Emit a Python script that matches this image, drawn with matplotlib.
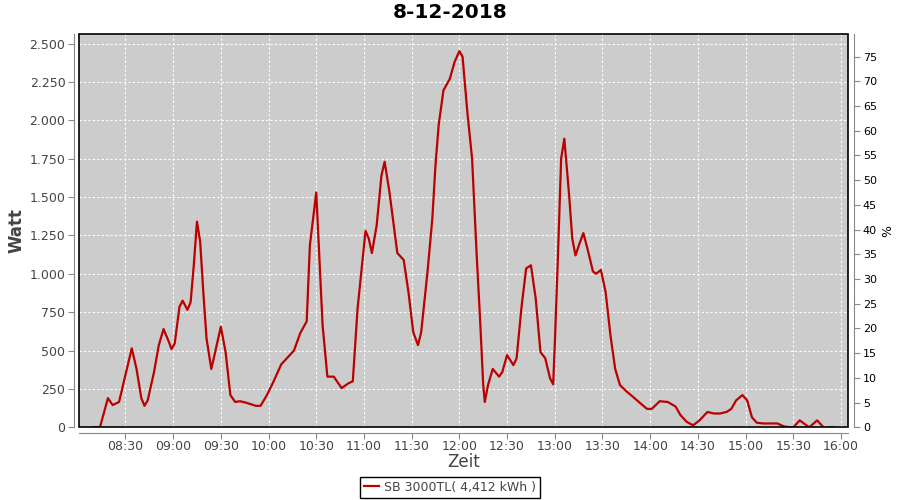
import matplotlib.pyplot as plt
from matplotlib.patches import Rectangle
from matplotlib.ticker import FuncFormatter, MultipleLocator

# Messwerte (Uhrzeit, Leistung in Watt)
zeiten = ["08:10", "08:14", "08:19", "08:22", "08:26", "08:30", "08:34", "08:37", "08:40", "08:42",
          "08:44", "08:48", "08:51", "08:54", "08:57", "08:59", "09:01", "09:04", "09:06", "09:09",
          "09:11", "09:13", "09:15", "09:17", "09:19", "09:21", "09:24", "09:26", "09:30", "09:33",
          "09:36", "09:39", "09:42", "09:46", "09:52", "09:55", "09:59", "10:03", "10:08", "10:12",
          "10:16", "10:20", "10:24", "10:26", "10:30", "10:32", "10:34", "10:37", "10:41", "10:46",
          "10:50", "10:53", "10:56", "11:01", "11:03", "11:05", "11:08", "11:11", "11:13", "11:16",
          "11:21", "11:25", "11:28", "11:31", "11:34", "11:36", "11:40", "11:43", "11:45", "11:47",
          "11:50", "11:54", "11:57", "12:00", "12:02", "12:05", "12:08", "12:11", "12:13", "12:15",
          "12:16", "12:18", "12:21", "12:25", "12:27", "12:30", "12:34", "12:36", "12:39", "12:42",
          "12:45", "12:48", "12:51", "12:54", "12:57", "12:59", "13:00", "13:02", "13:04", "13:06",
          "13:09", "13:11", "13:13", "13:16", "13:18", "13:21", "13:24", "13:26", "13:29", "13:32",
          "13:35", "13:38", "13:41", "13:45", "13:49", "13:54", "13:58", "14:01", "14:06", "14:11",
          "14:16", "14:19", "14:23", "14:27", "14:31", "14:36", "14:40", "14:44", "14:48", "14:51",
          "14:54", "14:58", "15:01", "15:04", "15:07", "15:11", "15:20", "15:24", "15:28", "15:30",
          "15:34", "15:40", "15:45", "15:49", "15:51", "15:53", "15:55"]
watt = [0, 0, 190, 145, 165, 340, 515, 380, 190, 140,
        175, 360, 535, 640, 565, 510, 545, 785, 825, 765,
        815, 1055, 1340, 1210, 880, 580, 380, 470, 655, 490,
        210, 165, 170, 160, 140, 140, 210, 295, 410, 455,
        500, 615, 690, 1185, 1530, 1100, 665, 330, 330, 255,
        285, 300, 775, 1280, 1230, 1135, 1315, 1640, 1730, 1535,
        1135, 1090, 880, 620, 535, 620, 1015, 1360, 1710, 1970,
        2195, 2270, 2380, 2450, 2415, 2055, 1750, 1100, 710, 275,
        165, 275, 380, 330, 360, 470, 405, 450, 775, 1035,
        1055, 840, 490, 450, 320, 280, 535, 1120, 1750, 1880,
        1515, 1230, 1120, 1210, 1265, 1145, 1015, 1000, 1025, 880,
        600, 380, 275, 235, 200, 155, 120, 120, 170, 165,
        135, 80, 35, 13, 45, 100, 90, 90, 100, 120,
        175, 210, 175, 65, 30, 25, 25, 6, 0, 0,
        45, 0, 45, 0, None, 0, 0]

x_ticks = ["08:30", "09:00", "09:30", "10:00", "10:30", "11:00", "11:30", "12:00",
           "12:30", "13:00", "13:30", "14:00", "14:30", "15:00", "15:30", "16:00"]


def minuten(s):
    h, m = s.split(":")
    return int(h) * 60 + int(m)


x = [minuten(z) for z in zeiten]
y = [float("nan") if w is None else w for w in watt]

grau = "#444444"
achse = "#888888"

fig = plt.figure(figsize=(9, 5), dpi=100)
ax = fig.add_axes([0.0881, 0.1454, 0.8545, 0.786])
ax.set_facecolor("#CCCCCC")

ax.plot(x, y, color="#BB0000", lw=1.6, label="SB 3000TL( 4,412 kWh )")

ax.set_xlim(481, 964.6)
ax.set_ylim(0, 2560)
ax.set_xticks([minuten(t) for t in x_ticks])
ax.set_xticklabels(x_ticks)
ax.yaxis.set_major_locator(MultipleLocator(250))
ax.yaxis.set_major_formatter(FuncFormatter(lambda v, p: f"{int(v):,}".replace(",", ".")))
ax.grid(True, color="white", ls=(0, (2, 2)), lw=0.8)
ax.set_axisbelow(True)

for s in ["top", "right"]:
    ax.spines[s].set_visible(False)
for s in ["left", "bottom"]:
    ax.spines[s].set_position(("outward", 4))
    ax.spines[s].set_color(achse)
ax.tick_params(colors=achse, labelcolor=grau, labelsize=9, length=4, direction="out", pad=2)
ax.tick_params(axis="x", pad=1)
ax.add_patch(Rectangle((0, 0), 1, 1, transform=ax.transAxes, fill=False,
                       ec="black", lw=1.2, clip_on=False, zorder=5))

ax.set_xlabel("Zeit", fontsize=12, color=grau, labelpad=0)
ax.set_ylabel("Watt", fontsize=12, fontweight="bold", color=grau, labelpad=3)

ax2 = ax.twinx()
ax2.set_ylim(0, 79.5)
ax2.yaxis.set_major_locator(MultipleLocator(5))
for s in ["top", "left", "bottom"]:
    ax2.spines[s].set_visible(False)
ax2.spines["right"].set_position(("outward", 4))
ax2.spines["right"].set_color(achse)
ax2.tick_params(colors=achse, labelcolor="black", labelsize=8, length=4, direction="out", pad=2.5)
ax2.set_ylabel("%", fontsize=9, color="black", labelpad=3)

fig.suptitle("8-12-2018", fontsize=14.5, fontweight="bold", y=0.995)

leg = fig.legend(loc="lower center", bbox_to_anchor=(0.5, 0.0), fontsize=9,
                 fancybox=False, edgecolor="black", handlelength=1.2,
                 borderpad=0.3, handletextpad=0.4, framealpha=1, borderaxespad=0.2)
leg.get_frame().set_linewidth(1.0)
for t in leg.get_texts():
    t.set_color(grau)

fig.savefig("out.png", dpi=100)
